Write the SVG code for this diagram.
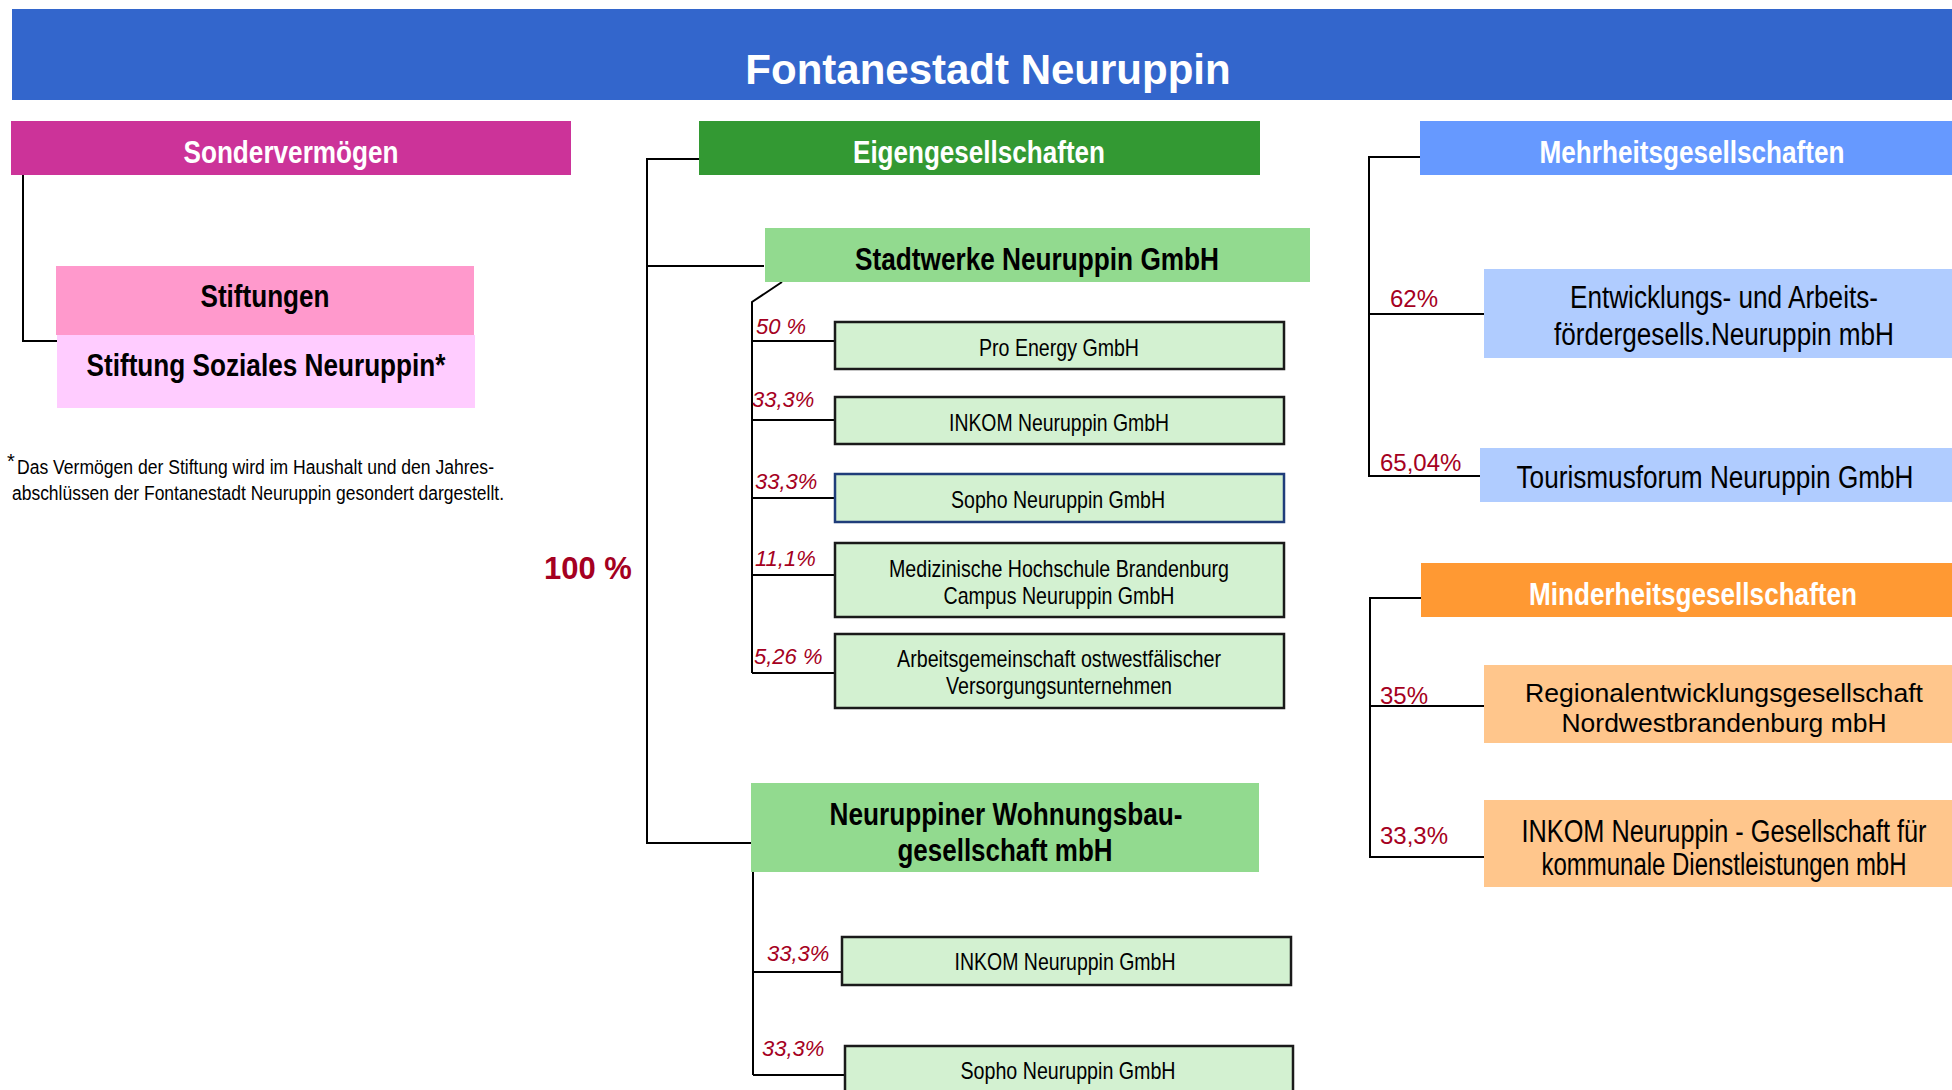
<svg xmlns="http://www.w3.org/2000/svg" width="1952" height="1090" viewBox="0 0 1952 1090">
<style>
.hb{font-family:"Liberation Sans",Arial,sans-serif;font-weight:bold;font-size:32px;text-anchor:middle}
.w{fill:#fff}
.k{fill:#000}
.sm{font-family:"Liberation Sans",Arial,sans-serif;font-size:24px;text-anchor:middle;fill:#000}
.md{font-family:"Liberation Sans",Arial,sans-serif;font-size:31px;text-anchor:middle;fill:#000}
.rg{font-family:"Liberation Sans",Arial,sans-serif;font-size:26.5px;text-anchor:middle;fill:#000}
.pi{font-family:"Liberation Sans",Arial,sans-serif;font-style:italic;font-size:22px;fill:#A50021}
.pr{font-family:"Liberation Sans",Arial,sans-serif;font-size:24px;fill:#A50021}
.box{fill:#D3F1D1;stroke:#1a1a1a;stroke-width:2.5}
.con{fill:none;stroke:#000;stroke-width:2}
.fn{font-family:"Liberation Sans",Arial,sans-serif;font-size:20px;fill:#000}
</style>
<rect width="1952" height="1090" fill="#fff"/>
<g id="title">
<rect x="12" y="9" width="1940" height="91" fill="#3366CC"/>
<text x="988" y="84" font-family="Liberation Sans, Arial, sans-serif" font-weight="bold" font-size="42" text-anchor="middle" fill="#fff">Fontanestadt Neuruppin</text>
</g>
<g id="connectors">
<path class="con" d="M23 175V341H57"/>
<path class="con" d="M699 159H647V843H751M647 266H764"/>
<path class="con" d="M782 282L752 302V673M752 341H835M752 420H835M752 498H835M752 575H835M752 673H835"/>
<path class="con" d="M753 872V1075M753 972H842M753 1075H845"/>
<path class="con" d="M1420 157H1369V476H1480M1369 314H1484"/>
<path class="con" d="M1421 598H1370V857H1484M1370 706H1484"/>
</g>
<g id="sondervermoegen">
<rect x="11" y="121" width="560" height="54" fill="#CC3399"/>
<text class="hb w" x="291" y="162.5" textLength="215" lengthAdjust="spacingAndGlyphs">Sondervermögen</text>
</g>
<g id="stiftungen">
<rect x="56" y="266" width="418" height="69" fill="#FF99CC"/>
<text class="hb k" x="265" y="307" textLength="129" lengthAdjust="spacingAndGlyphs">Stiftungen</text>
</g>
<g id="stiftung-soziales">
<rect x="57" y="335" width="418" height="73" fill="#FFCCFF"/>
<text class="hb k" x="266" y="375.5" textLength="359" lengthAdjust="spacingAndGlyphs">Stiftung Soziales Neuruppin*</text>
</g>
<g id="footnote">
<text class="fn" x="7" y="468" font-size="24">*</text>
<text class="fn" x="17" y="474" textLength="477" lengthAdjust="spacingAndGlyphs">Das Vermögen der Stiftung wird im Haushalt und den Jahres-</text>
<text class="fn" x="12" y="500" textLength="492" lengthAdjust="spacingAndGlyphs">abschlüssen der Fontanestadt Neuruppin gesondert dargestellt.</text>
</g>
<g id="eigengesellschaften">
<rect x="699" y="121" width="561" height="54" fill="#339933"/>
<text class="hb w" x="979" y="162.5" textLength="252" lengthAdjust="spacingAndGlyphs">Eigengesellschaften</text>
</g>
<g id="label-100">
<text x="544" y="579" font-family="Liberation Sans, Arial, sans-serif" font-weight="bold" font-size="31" fill="#A50021">100 %</text>
</g>
<g id="stadtwerke">
<rect x="765" y="228" width="545" height="54" fill="#92DA8F"/>
<text class="hb k" x="1037" y="269.5" textLength="364" lengthAdjust="spacingAndGlyphs">Stadtwerke Neuruppin GmbH</text>
</g>
<g id="pro-energy">
<rect class="box" x="835" y="322" width="449" height="47"/>
<text class="sm" x="1059" y="356" textLength="160" lengthAdjust="spacingAndGlyphs">Pro Energy GmbH</text>
<text class="pi" x="756" y="334">50 %</text>
</g>
<g id="inkom-1">
<rect class="box" x="835" y="397" width="449" height="47"/>
<text class="sm" x="1059" y="431" textLength="220" lengthAdjust="spacingAndGlyphs">INKOM Neuruppin GmbH</text>
<text class="pi" x="752" y="407">33,3%</text>
</g>
<g id="sopho-1">
<rect class="box" x="835" y="474" width="449" height="48" style="stroke:#1F3D7A"/>
<text class="sm" x="1058" y="508" textLength="214" lengthAdjust="spacingAndGlyphs">Sopho Neuruppin GmbH</text>
<text class="pi" x="755" y="489">33,3%</text>
</g>
<g id="mhb">
<rect class="box" x="835" y="543" width="449" height="74"/>
<text class="sm" x="1059" y="577" textLength="340" lengthAdjust="spacingAndGlyphs">Medizinische Hochschule Brandenburg</text>
<text class="sm" x="1059" y="604" textLength="231" lengthAdjust="spacingAndGlyphs">Campus Neuruppin GmbH</text>
<text class="pi" x="755" y="566">11,1%</text>
</g>
<g id="arge">
<rect class="box" x="835" y="634" width="449" height="74"/>
<text class="sm" x="1059" y="667" textLength="324" lengthAdjust="spacingAndGlyphs">Arbeitsgemeinschaft ostwestfälischer</text>
<text class="sm" x="1059" y="694" textLength="226" lengthAdjust="spacingAndGlyphs">Versorgungsunternehmen</text>
<text class="pi" x="754" y="664">5,26 %</text>
</g>
<g id="wohnungsbau">
<rect x="751" y="783" width="508" height="89" fill="#92DA8F"/>
<text class="hb k" x="1006" y="825" textLength="353" lengthAdjust="spacingAndGlyphs">Neuruppiner Wohnungsbau-</text>
<text class="hb k" x="1005" y="861" textLength="215" lengthAdjust="spacingAndGlyphs">gesellschaft mbH</text>
</g>
<g id="inkom-2">
<rect class="box" x="842" y="937" width="449" height="48"/>
<text class="sm" x="1065" y="970" textLength="221" lengthAdjust="spacingAndGlyphs">INKOM Neuruppin GmbH</text>
<text class="pi" x="767" y="961">33,3%</text>
</g>
<g id="sopho-2">
<rect class="box" x="845" y="1046" width="448" height="60"/>
<text class="sm" x="1068" y="1079" textLength="215" lengthAdjust="spacingAndGlyphs">Sopho Neuruppin GmbH</text>
<text class="pi" x="762" y="1056">33,3%</text>
</g>
<g id="mehrheitsgesellschaften">
<rect x="1420" y="121" width="532" height="54" fill="#6699FF"/>
<text class="hb w" x="1692" y="162.5" textLength="305" lengthAdjust="spacingAndGlyphs">Mehrheitsgesellschaften</text>
</g>
<g id="entwicklung">
<rect x="1484" y="269" width="468" height="89" fill="#B0CCFF"/>
<text class="md" x="1724" y="308" textLength="308" lengthAdjust="spacingAndGlyphs">Entwicklungs- und Arbeits-</text>
<text class="md" x="1724" y="345" textLength="340" lengthAdjust="spacingAndGlyphs">fördergesells.Neuruppin mbH</text>
<text class="pr" x="1390" y="307">62%</text>
</g>
<g id="tourismus">
<rect x="1480" y="448" width="472" height="54" fill="#B0CCFF"/>
<text class="md" x="1715" y="488" textLength="397" lengthAdjust="spacingAndGlyphs">Tourismusforum Neuruppin GmbH</text>
<text class="pr" x="1380" y="471">65,04%</text>
</g>
<g id="minderheitsgesellschaften">
<rect x="1421" y="563" width="531" height="54" fill="#FF9933"/>
<text class="hb w" x="1693" y="604.5" textLength="328" lengthAdjust="spacingAndGlyphs">Minderheitsgesellschaften</text>
</g>
<g id="regional">
<rect x="1484" y="665" width="468" height="78" fill="#FFC68C"/>
<text class="rg" x="1724" y="702" textLength="398" lengthAdjust="spacingAndGlyphs">Regionalentwicklungsgesellschaft</text>
<text class="rg" x="1724" y="732" textLength="325" lengthAdjust="spacingAndGlyphs">Nordwestbrandenburg mbH</text>
<text class="pr" x="1380" y="704">35%</text>
</g>
<g id="inkom-3">
<rect x="1484" y="800" width="468" height="87" fill="#FFC68C"/>
<text class="md" x="1724" y="842" textLength="405" lengthAdjust="spacingAndGlyphs">INKOM Neuruppin - Gesellschaft für</text>
<text class="md" x="1724" y="875" textLength="365" lengthAdjust="spacingAndGlyphs">kommunale Dienstleistungen mbH</text>
<text class="pr" x="1380" y="844">33,3%</text>
</g>
</svg>
